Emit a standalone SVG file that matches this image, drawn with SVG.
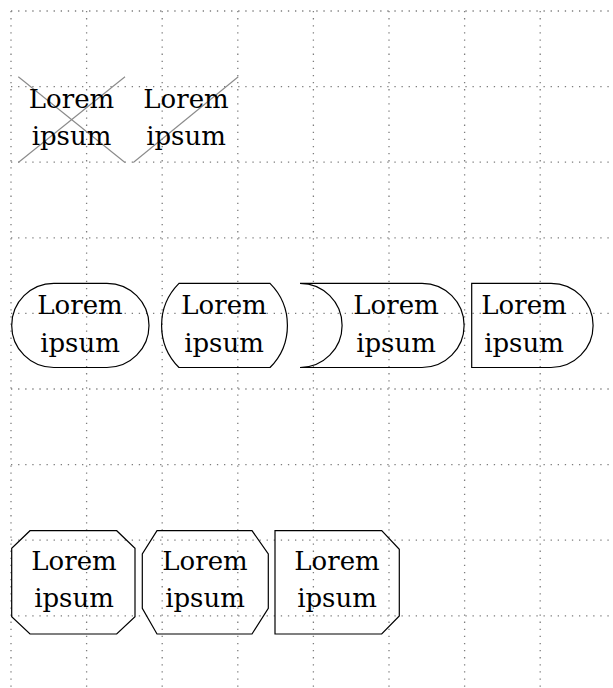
<svg xmlns="http://www.w3.org/2000/svg" width="613" height="688" viewBox="0 0 613 688">
  <style>
    .grid { fill: none; stroke: #7d7d7d; stroke-width: 1.3; stroke-dasharray: 1.3 5.8; }
    .shape { fill: none; stroke: #000; stroke-width: 1.2; stroke-linejoin: miter; }
    .strike { stroke: #8a8a8a; stroke-width: 1.1; }
    text { font-family: "DejaVu Serif", "Liberation Serif", serif; font-size: 26px; text-anchor: middle; fill: #000; }
  </style>

  <!-- background help grid -->
  <g id="grid">
    <path class="grid" d="M11,11 V688 M86.6,11 V688 M162.2,11 V688 M237.8,11 V688 M313.4,11 V688 M389,11 V688 M464.6,11 V688 M540.2,11 V688"/>
    <path class="grid" d="M11,11 H613 M11,86.6 H613 M11,162.2 H613 M11,237.8 H613 M11,313.4 H613 M11,389 H613 M11,464.6 H613 M11,540.2 H613 M11,615.8 H613"/>
  </g>

  <!-- connectors: none in this figure -->
  <g id="connectors"></g>

  <!-- row 1: cross out / strike out -->
  <g id="cross-out">
    <line class="strike" x1="18.3" y1="76.7" x2="125" y2="162.5"/>
    <line class="strike" x1="18.3" y1="162.5" x2="125" y2="76.7"/>
    <text x="71.5" y="107.8">Lorem</text>
    <text x="71.5" y="145.3">ipsum</text>
  </g>
  <g id="strike-out">
    <line class="strike" x1="133.3" y1="162.5" x2="238.3" y2="76.7"/>
    <text x="186" y="107.8">Lorem</text>
    <text x="186" y="145.3">ipsum</text>
  </g>

  <!-- row 2: rounded rectangles -->
  <g id="rounded-full">
    <path class="shape" d="M53.8,283.3 H106.9 A42.1,42.1 0 0 1 106.9,367.5 H53.8 A42.1,42.1 0 0 1 53.8,283.3 Z"/>
    <text x="80" y="314.3">Lorem</text>
    <text x="80" y="351.7">ipsum</text>
  </g>
  <g id="rounded-arc90">
    <path class="shape" d="M179,283.3 H270 A59.6,59.6 0 0 1 270,367.5 H179 A59.6,59.6 0 0 1 179,283.3 Z"/>
    <text x="224" y="314.3">Lorem</text>
    <text x="224" y="351.7">ipsum</text>
  </g>
  <g id="rounded-concave-west">
    <path class="shape" d="M300,283.3 H422 A42.1,42.1 0 0 1 422,367.5 H300 A42.1,42.1 0 0 0 300,283.3 Z"/>
    <text x="396" y="314.3">Lorem</text>
    <text x="396" y="351.7">ipsum</text>
  </g>
  <g id="rounded-flat-west">
    <path class="shape" d="M471.7,283.3 H551 A42.1,42.1 0 0 1 551,367.5 H471.7 Z"/>
    <text x="524" y="314.3">Lorem</text>
    <text x="524" y="351.7">ipsum</text>
  </g>

  <!-- row 3: chamfered rectangles -->
  <g id="chamfer-all">
    <polygon class="shape" points="30,530.7 116.7,530.7 135,548.3 135,616.7 116.7,634 30,634 11.7,616.7 11.7,548.3"/>
    <text x="74" y="570">Lorem</text>
    <text x="74" y="607.3">ipsum</text>
  </g>
  <g id="chamfer-steep">
    <polygon class="shape" points="157,530.7 252,530.7 268.3,554 268.3,608.3 252,634 157,634 142.3,608.3 142.3,554"/>
    <text x="205" y="570">Lorem</text>
    <text x="205" y="607.3">ipsum</text>
  </g>
  <g id="chamfer-east">
    <polygon class="shape" points="275,530.7 381.7,530.7 399.3,549.3 399.3,616 381.7,634 275,634"/>
    <text x="337" y="570">Lorem</text>
    <text x="337" y="607.3">ipsum</text>
  </g>
</svg>
